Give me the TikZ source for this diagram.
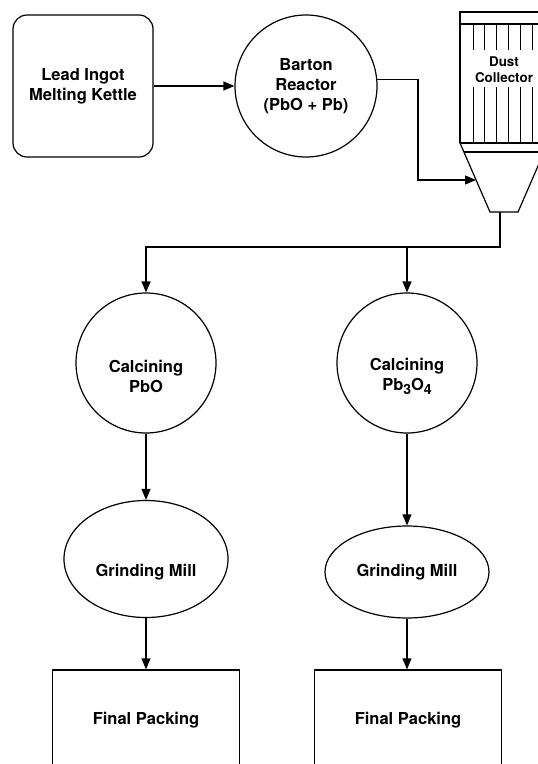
\documentclass[tikz,border=0pt]{standalone}
\usepackage{fontspec}
\setmainfont{TeX Gyre Heros}
\usetikzlibrary{shapes.geometric,arrows.meta}

\tikzset{
  unit/.style={draw, line width=1.2pt, align=center, inner sep=0pt,
    font=\fontsize{16.5}{20}\selectfont\bfseries},
  kettlebox/.style={unit, rounded corners=14pt, minimum width=140pt, minimum height=142pt},
  vessel/.style={unit, circle, minimum size=#1},
  vessel/.default=140pt,
  mill/.style={unit, ellipse, minimum width=164pt},
  packbox/.style={unit, rectangle, minimum width=187pt, minimum height=100pt},
  lowtext/.style={label={[unit, draw=none, yshift=-13pt]center:#1}},
  pipe/.style={line width=1.2pt},
  flow/.style={pipe, -{Triangle[length=11pt,width=9pt]}},
}

\begin{document}
\begin{tikzpicture}[x=1pt,y=-1pt]
  \useasboundingbox (0,0) rectangle (538,764);
  \clip (0,0) rectangle (538,764);

  % top row
  \node[kettlebox] (kettle) at (83,86) {Lead Ingot\\Melting Kettle};
  \node[vessel=142pt] (reactor) at (306,86) {Barton\\Reactor\\(PbO + Pb)};

  % dust collector, runs off the right edge
  \draw[pipe] (460,143) -- (460,12) -- (548,12) -- (548,143);
  \draw[pipe] (460,24) -- (548,24);
  \draw[pipe] (460,143) -- (548,143);
  \draw[pipe] (464,152) -- (544,152);
  \draw[pipe] (460,143) -- (490,212) -- (518,212) -- (548,143);
  \foreach \x in {473,484.8,...,545}
    \draw[line width=1pt] (\x,24) -- (\x,50) (\x,87) -- (\x,143);
  \node[font=\fontsize{13.4}{16}\selectfont\bfseries, align=center] (dust) at (504,70) {Dust\\Collector};
  \coordinate (inlet) at (476,180);
  \coordinate (outlet) at (500,212);

  % two calcining lines
  \node[vessel, lowtext={Calcining\\PbO}] (calcpbo) at (146,363) {};
  \node[vessel, lowtext={Calcining\\Pb\raisebox{-4pt}{\fontsize{14}{14}\selectfont 3}O\raisebox{-4pt}{\fontsize{14}{14}\selectfont 4}}] (calcred) at (407,363) {};

  \node[mill, minimum height=117pt, lowtext={Grinding Mill}] (millL) at (146,559) {};
  \node[mill, minimum height=92pt] (millR) at (407,572) {Grinding Mill};

  \node[packbox] (packL) at (146,720) {Final Packing};
  \node[packbox] (packR) at (408,720) {Final Packing};

  % connectors
  \draw[flow] (kettle) -- (reactor);
  \coordinate (turn) at (418,180);
  \draw[flow] (reactor.5) -| (turn) -- (inlet);
  \coordinate (split) at (500,247);
  \draw[flow] (outlet) -- (split) -| (calcpbo);
  \draw[flow] (calcred |- split) -- (calcred);
  \draw[flow] (calcpbo) -- (millL);
  \draw[flow] (calcred) -- (millR);
  \draw[flow] (millL) -- (packL);
  \draw[flow] (millR) -- (millR |- packR.north);
\end{tikzpicture}
\end{document}
